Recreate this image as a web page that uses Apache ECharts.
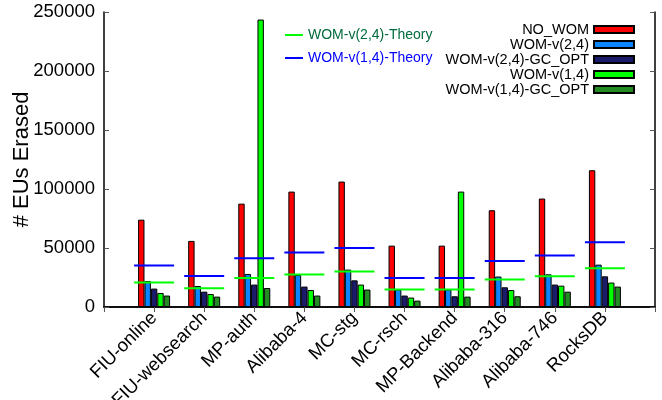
<!DOCTYPE html>
<html>
<head>
<meta charset="utf-8">
<script src="https://cdn.jsdelivr.net/npm/echarts@6/dist/echarts.min.js"></script>
<style>
  html, body { margin: 0; padding: 0; background: #fff; }
  #chart { width: 662px; height: 400px; }
</style>
</head>
<body>
<div id="chart"></div>
<script>
// blank first/last slots give the -1 .. 10 x range of the original plot
const traces = ['', 'FIU-online', 'FIU-websearch', 'MP-auth', 'Alibaba-4', 'MC-stg',
  'MC-rsch', 'MP-Backend', 'Alibaba-316', 'Alibaba-746', 'RocksDB', ''];

const noWom      = [null, 74000, 56000, 87600, 97800, 106300, 52000, 52000, 82000, 91900, 115900, null];
const wom24      = [null, 22000, 17800, 28000, 27100, 31700, 14800, 14800, 25800, 27700, 35900, null];
const wom24GcOpt = [null, 15600, 13000, 19000, 17300, 22600, 9700, 9100, 16700, 19000, 26000, null];
const wom14      = [null, 11900, 11000, 243600, 14400, 19000, 8000, 97800, 14400, 18100, 20700, null];
const wom14GcOpt = [null, 9700, 8800, 16100, 9700, 14800, 5400, 8800, 9100, 13000, 17300, null];

const theory24 = [null, 20700, 15900, 24600, 27500, 30000, 14800, 14800, 23200, 26000, 32800, null];
const theory14 = [null, 35100, 26300, 41300, 46100, 50000, 24600, 24600, 39000, 43600, 54800, null];

const yTicks = [0, 50000, 100000, 150000, 200000, 250000];

const chart = echarts.init(document.getElementById('chart'));
const font = 'Liberation Sans, Arial, sans-serif';

function barSeries(name, data, color) {
  return {
    name: name,
    type: 'bar',
    data: data,
    barWidth: 6.4,
    barGap: '0%',
    itemStyle: { color: color, borderColor: '#000', borderWidth: 1 },
    emphasis: { disabled: true },
    z: 2
  };
}

function theorySeries(name, data, color) {
  return {
    name: name,
    type: 'custom',
    data: data.map((v, i) => [i, v]),
    itemStyle: { color: color },
    renderItem: function (params, api) {
      const v = api.value(1);
      if (v == null || isNaN(v)) return null;
      const p = api.coord([api.value(0), v]);
      return {
        type: 'line',
        shape: { x1: p[0] - 20, y1: p[1], x2: p[0] + 20, y2: p[1] },
        style: { stroke: color, lineWidth: 2 }
      };
    },
    z: 3
  };
}

const option = {
  animation: false,
  textStyle: { fontFamily: font },
  grid: { left: 104, right: 7, top: 12, bottom: 93, containLabel: false, outerBoundsMode: 'none' },
  legend: [
    {
      orient: 'vertical',
      left: 280,
      top: 22,
      itemWidth: 18,
      itemHeight: 2,
      itemGap: 7,
      icon: 'rect',
      textStyle: { fontSize: 14, lineHeight: 16, fontFamily: font },
      data: [
        { name: 'WOM-v(2,4)-Theory', textStyle: { color: '#006b3c' } },
        { name: 'WOM-v(1,4)-Theory', textStyle: { color: '#0000ff' } }
      ]
    },
    {
      orient: 'vertical',
      right: 22,
      top: 17,
      align: 'right',
      itemWidth: 40,
      itemHeight: 7,
      itemGap: 0,
      icon: 'rect',
      textStyle: { fontSize: 14.5, lineHeight: 14.75, color: '#000', fontFamily: font },
      data: ['NO_WOM', 'WOM-v(2,4)', 'WOM-v(2,4)-GC_OPT', 'WOM-v(1,4)', 'WOM-v(1,4)-GC_OPT']
    }
  ],
  xAxis: [
    {
      type: 'category',
      data: traces,
      boundaryGap: false,
      axisLine: { lineStyle: { color: '#000', width: 1.5 } },
      axisTick: { show: false },
      axisLabel: {
        interval: 0,
        rotate: 45,
        margin: 8,
        color: '#000',
        fontSize: 18.5,
        fontFamily: font
      }
    },
    {
      type: 'category',
      data: traces,
      boundaryGap: false,
      position: 'top',
      axisLine: { lineStyle: { color: '#000', width: 1.5 } },
      axisTick: { show: true, inside: true, length: 5, interval: 0, lineStyle: { color: '#555' } },
      axisLabel: { show: false }
    }
  ],
  yAxis: [
    {
      type: 'value',
      min: yTicks[0],
      max: yTicks[yTicks.length - 1],
      interval: 50000,
      name: '# EUs Erased',
      nameLocation: 'middle',
      nameGap: 71,
      nameMoveOverlap: false,
      nameTextStyle: { fontSize: 22, color: '#000', fontFamily: font },
      axisLine: { show: true, lineStyle: { color: '#000', width: 1.5 } },
      axisTick: { show: true, inside: true, length: 5, lineStyle: { color: '#555' } },
      axisLabel: { margin: 9, color: '#000', fontSize: 18.5, fontFamily: font, formatter: v => String(v) },
      splitLine: { show: false }
    },
    {
      type: 'value',
      min: yTicks[0],
      max: yTicks[yTicks.length - 1],
      interval: 50000,
      position: 'right',
      axisLine: { show: true, lineStyle: { color: '#000', width: 1.5 } },
      axisTick: { show: true, inside: true, length: 5, lineStyle: { color: '#555' } },
      axisLabel: { show: false },
      splitLine: { show: false }
    }
  ],
  series: [
    barSeries('NO_WOM', noWom, '#ff0000'),
    barSeries('WOM-v(2,4)', wom24, '#0a84ff'),
    barSeries('WOM-v(2,4)-GC_OPT', wom24GcOpt, '#1b1b6b'),
    barSeries('WOM-v(1,4)', wom14, '#00ff00'),
    barSeries('WOM-v(1,4)-GC_OPT', wom14GcOpt, '#228b22'),
    theorySeries('WOM-v(2,4)-Theory', theory24, '#00ff00'),
    theorySeries('WOM-v(1,4)-Theory', theory14, '#0000ff')
  ]
};

chart.setOption(option);
</script>
</body>
</html>
